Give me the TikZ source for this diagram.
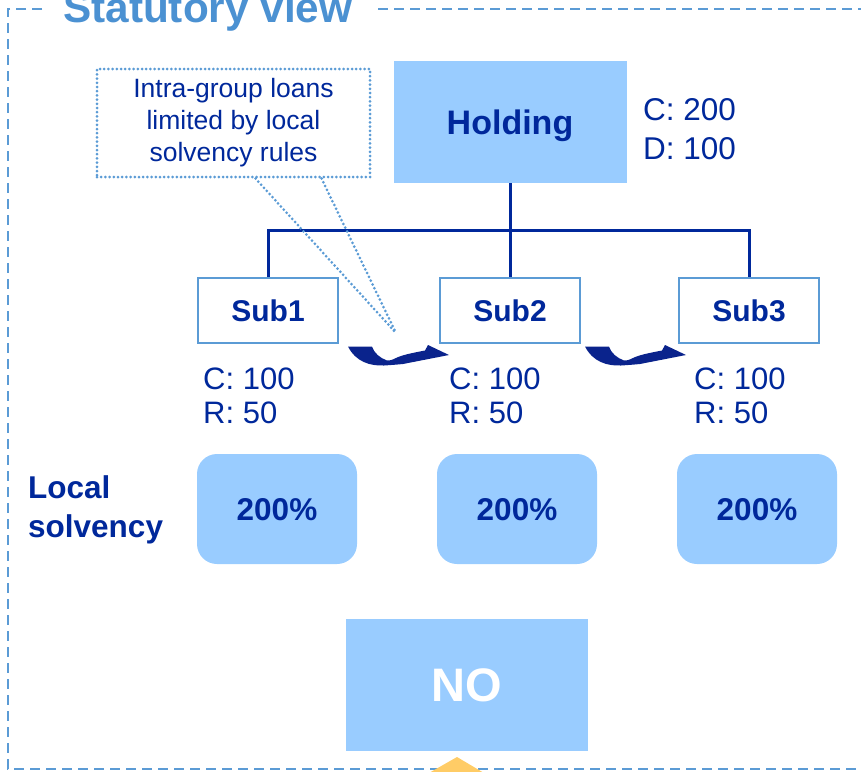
\documentclass[tikz,border=0pt]{standalone}
\usepackage{fontspec}
\setmainfont{Liberation Sans}
\definecolor{lightfill}{RGB}{153,204,255}
\definecolor{darkblue}{RGB}{0,40,155}
\definecolor{midblue}{RGB}{91,155,213}
\definecolor{titleblue}{RGB}{75,145,210}
\definecolor{orangetri}{RGB}{255,204,102}
\definecolor{swoosh}{RGB}{10,35,140}
\begin{document}
\begin{tikzpicture}[x=1pt,y=-1pt,
  fillbox/.style={rectangle, fill=lightfill, inner sep=0pt, text depth=0pt},
  subbox/.style={rectangle, draw=midblue, line width=2.5pt, fill=white,
    minimum width=140pt, minimum height=65pt, inner sep=0pt,
    font=\fontsize{30}{34}\selectfont\bfseries, text=darkblue},
  solbox/.style={rectangle, rounded corners=20pt, fill=lightfill,
    minimum width=160pt, minimum height=110pt, inner sep=0pt, text depth=0pt,
    font=\fontsize{31.5}{36}\selectfont\bfseries, text=darkblue},
  datalabel/.style={anchor=west, align=left, inner sep=0pt, text=darkblue},
  treeline/.style={draw=darkblue, line width=3pt},
  dotline/.style={draw=midblue, line width=3pt, line cap=round, dash pattern=on 0pt off 4.2pt},
  framestyle/.style={draw=midblue, line width=2pt, dash pattern=on 10pt off 6pt}
]
\useasboundingbox (0,0) rectangle (861,771);
\begin{scope}
\clip (0,0) rectangle (861,771);

% frame
\draw[framestyle] (42,9) -- (8,9) -- (8,769) -- (875,769);
\draw[framestyle] (378,9) -- (875,9);
\node[anchor=base west, inner sep=0pt, text=titleblue,
  font=\fontsize{42.3}{48}\selectfont\bfseries] (title) at (63,22) {Statutory view};

% holding
\node[fillbox, minimum width=233pt, minimum height=122pt,
  font=\fontsize{34}{40}\selectfont\bfseries, text=darkblue] (holding) at (510,122) {Holding};
\node[datalabel, font=\fontsize{31.5}{39}\selectfont] (holdval) at (643,129) {C: 200\\D: 100};

% subs
\node[subbox] (sub1) at (268,310.5) {Sub1};
\node[subbox] (sub2) at (510,310.5) {Sub2};
\node[subbox] (sub3) at (749,310.5) {Sub3};

% tree
\coordinate (jn) at (510,230);
\draw[treeline] (holding.south) -- (jn);
\draw[treeline] (sub1.north) |- (jn) -| (sub3.north);
\draw[treeline] (jn) -- (sub2.north);

% values
\node[datalabel, font=\fontsize{31}{34}\selectfont] (val1) at (203,396) {C: 100\\R: 50};
\node[datalabel, font=\fontsize{31}{34}\selectfont] (val2) at (449,396) {C: 100\\R: 50};
\node[datalabel, font=\fontsize{31}{34}\selectfont] (val3) at (694,396) {C: 100\\R: 50};

% solvency
\node[datalabel, font=\fontsize{31.5}{39}\selectfont\bfseries] (local) at (28,510) {Local\\solvency};
\node[solbox] (sol1) at (277,509) {200\%};
\node[solbox] (sol2) at (517,509) {200\%};
\node[solbox] (sol3) at (757,509) {200\%};

% NO
\node[fillbox, minimum width=242pt, minimum height=132pt, text=white,
  font=\fontsize{47}{52}\selectfont\bfseries] (no) at (467,685) {NO};

% orange triangle
\fill[orangetri] (429,773) -- (457,757) -- (484,773) -- cycle;

% callout
\node[rectangle, dotline, minimum width=273pt, minimum height=108pt, inner sep=0pt,
  align=center, text=darkblue, font=\fontsize{26.5}{32}\selectfont] (callout) at (233.5,123)
  {Intra-group loans\\limited by local\\solvency rules};
\coordinate (calltip) at (396,333);
\draw[dotline] ([xshift=160pt]callout.south west) -- (calltip);
\draw[dotline] ([xshift=226pt]callout.south west) -- (calltip);

% curved arrows
\foreach \dx in {0,237}{
\fill[swoosh, shift={(\dx,0)}] (348,346.5) .. controls (356,362) and (370,366) .. (384,365.5)
  .. controls (392,365) and (398,364.5) .. (403,364) -- (449,355) -- (428,345) -- (425,350.5)
  .. controls (412,353) and (402,355) .. (396,358)
  .. controls (392,360) and (389,361) .. (387,360.5)
  .. controls (380,358) and (374,353) .. (372,346.5) -- cycle;
}
\end{scope}
\end{tikzpicture}
\end{document}
